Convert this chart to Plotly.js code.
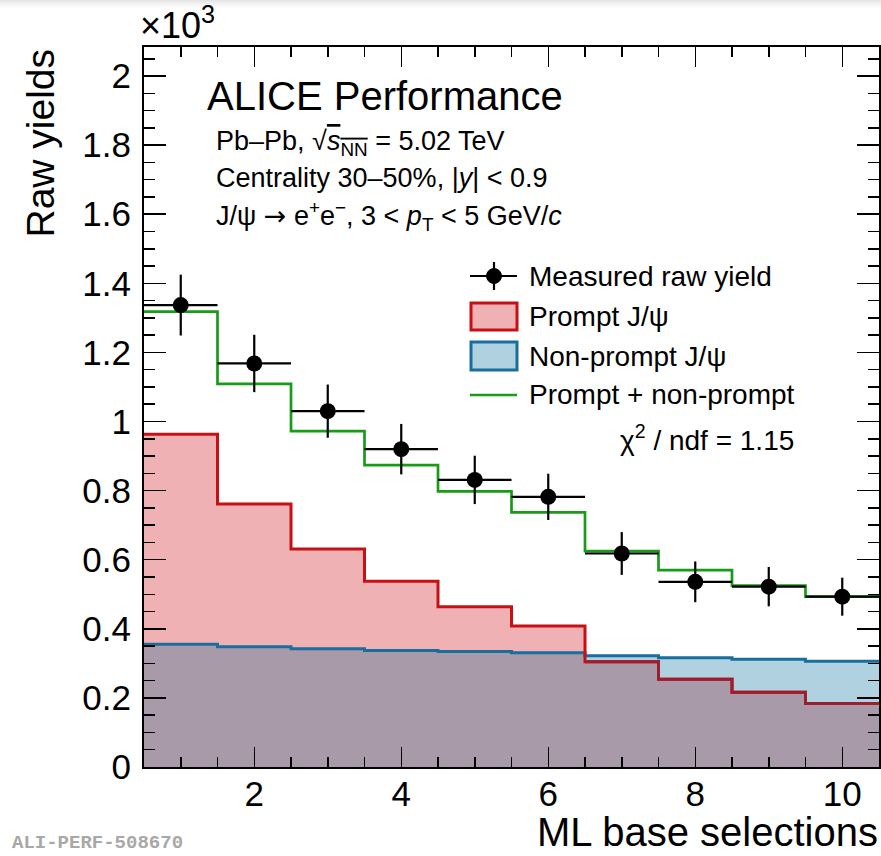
<!DOCTYPE html>
<html>
<head>
<meta charset="utf-8">
<script src="https://cdn.plot.ly/plotly-3.0.1.min.js"></script>
<style>
html,body{margin:0;padding:0;}
body{width:881px;height:856px;background:linear-gradient(#e4e4e4 0px,#f6f6f6 5px,#ffffff 9px);}
#chart{width:881px;height:856px;}
</style>
</head>
<body>
<div id="chart"></div>
<script>
// ---- data (values in units of 10^3) ----
const selections   = [1, 2, 3, 4, 5, 6, 7, 8, 9, 10];
const measured     = [1.337, 1.168, 1.030, 0.920, 0.831, 0.782, 0.618, 0.536, 0.522, 0.493];
const measuredErr  = [0.088, 0.083, 0.077, 0.073, 0.070, 0.067, 0.062, 0.059, 0.057, 0.055];
const prompt       = [0.963, 0.761, 0.631, 0.538, 0.464, 0.408, 0.305, 0.254, 0.216, 0.184];
const nonPrompt    = [0.355, 0.348, 0.342, 0.337, 0.334, 0.331, 0.322, 0.316, 0.312, 0.306];
const total        = [1.318, 1.109, 0.972, 0.874, 0.798, 0.737, 0.625, 0.570, 0.525, 0.493];
const xTickVals    = [2, 4, 6, 8, 10];
const yTickVals    = [0, 0.2, 0.4, 0.6, 0.8, 1, 1.2, 1.4, 1.6, 1.8, 2];
const binWidth = 1;

// ---- helpers for histogram steps ----
function stepX(centers){
  const xs = centers.map(c => c - binWidth/2);
  xs.push(centers[centers.length-1] + binWidth/2);
  return xs;
}
function stepY(vals){ return vals.concat([vals[vals.length-1]]); }
const overlap = prompt.map((p,i) => Math.min(p, nonPrompt[i]));

// dark red segments where prompt lies inside the non-prompt area
const darkX = [], darkY = [];
for (let i = 0; i < selections.length; i++) {
  const inside = prompt[i] < nonPrompt[i];
  if (inside) {
    darkX.push(selections[i] - binWidth/2); darkY.push(prompt[i]);
    const lastOfRun = (i === selections.length-1) || !(prompt[i+1] < nonPrompt[i+1]);
    if (lastOfRun) { darkX.push(selections[i] + binWidth/2); darkY.push(prompt[i]); darkX.push(null); darkY.push(null); }
  }
}

// ---- geometry (pixels -> paper) ----
const W = 881, H = 856, ML = 144, MR = 2, MT = 47, MB = 89;
const PW = W - ML - MR, PH = H - MT - MB;
const px = x => (x - ML) / PW;
const py = y => (H - MB - y) / PH;

const FONT = 'Liberation Sans, Arial, Helvetica, sans-serif';
const C_PINK = '#f0b1b5', C_RED = '#c80f14', C_DARKRED = '#9c1f30';
const C_LBLUE = '#afd1e0', C_BLUE = '#1a6e9e', C_OVER = '#a89aa9', C_GREEN = '#189c18';

const xs = stepX(selections);
const traces = [
  {x: xs, y: stepY(nonPrompt), mode: 'lines', line: {shape: 'hv', width: 0, color: C_LBLUE}, fill: 'tozeroy', fillcolor: C_LBLUE, hoverinfo: 'skip'},
  {x: xs, y: stepY(prompt), mode: 'lines', line: {shape: 'hv', width: 0, color: C_PINK}, fill: 'tozeroy', fillcolor: C_PINK, hoverinfo: 'skip'},
  {x: xs, y: stepY(overlap), mode: 'lines', line: {shape: 'hv', width: 0, color: C_OVER}, fill: 'tozeroy', fillcolor: C_OVER, hoverinfo: 'skip'},
  {x: xs, y: stepY(nonPrompt), mode: 'lines', line: {shape: 'hv', width: 3, color: C_BLUE}, hoverinfo: 'skip'},
  {x: xs, y: stepY(prompt), mode: 'lines', line: {shape: 'hv', width: 3, color: C_RED}, hoverinfo: 'skip'},
  {x: darkX, y: darkY, mode: 'lines', line: {shape: 'hv', width: 3, color: C_DARKRED}, connectgaps: false, hoverinfo: 'skip'},
  {x: xs, y: stepY(total), mode: 'lines', line: {shape: 'hv', width: 2.7, color: C_GREEN}, hoverinfo: 'skip'},
  {x: selections, y: measured, mode: 'markers', marker: {symbol: 'circle', size: 16, color: 'black'},
   error_y: {type: 'data', array: measuredErr, width: 0, thickness: 2.2, color: 'black'},
   error_x: {type: 'constant', value: binWidth/2, width: 0, thickness: 2.2, color: 'black'}}
];

const axisCommon = {
  showgrid: false, zeroline: false, showline: true, linecolor: 'black', linewidth: 2,
  mirror: 'allticks', ticks: 'inside', tickcolor: 'black', tickwidth: 1.5,
  tickfont: {family: FONT, size: 35, color: 'black'}
};

const layout = {
  width: W, height: H,
  margin: {l: ML, r: MR, t: MT, b: MB, pad: 0},
  paper_bgcolor: 'rgba(0,0,0,0)', plot_bgcolor: 'white',
  showlegend: false,
  xaxis: Object.assign({}, axisCommon, {
    range: [0.5, 10.5], tickmode: 'array', tickvals: xTickVals, ticklen: 20, ticklabelstandoff: -5,
    minor: {dtick: 0.5, tick0: 0, ticklen: 10, tickwidth: 1.5, tickcolor: 'black', ticks: 'inside'}
  }),
  yaxis: Object.assign({}, axisCommon, {
    range: [0, 2.084], tickmode: 'array', tickvals: yTickVals, ticklen: 22, ticklabelstandoff: 4,
    minor: {dtick: 0.05, tick0: 0, ticklen: 11, tickwidth: 1.5, tickcolor: 'black', ticks: 'inside'}
  }),
  shapes: [
    // legend: measured
    {type: 'line', xref: 'paper', yref: 'paper', x0: px(470), x1: px(517), y0: py(276), y1: py(276), line: {color: 'black', width: 2.2}},
    {type: 'line', xref: 'paper', yref: 'paper', x0: px(494), x1: px(494), y0: py(262), y1: py(290), line: {color: 'black', width: 2.2}},
    {type: 'circle', xref: 'paper', yref: 'paper', x0: px(486.5), x1: px(501.5), y0: py(268.5), y1: py(283.5), fillcolor: 'black', line: {color: 'black', width: 1}},
    // legend: prompt
    {type: 'rect', xref: 'paper', yref: 'paper', x0: px(471), x1: px(517), y0: py(303), y1: py(330), fillcolor: C_PINK, line: {color: C_RED, width: 3}},
    // legend: non-prompt
    {type: 'rect', xref: 'paper', yref: 'paper', x0: px(471), x1: px(517), y0: py(342), y1: py(370), fillcolor: C_LBLUE, line: {color: C_BLUE, width: 3}},
    // legend: total
    {type: 'line', xref: 'paper', yref: 'paper', x0: px(470), x1: px(517), y0: py(395), y1: py(395), line: {color: C_GREEN, width: 2.5}}
  ],
  annotations: [
    {text: 'Raw yields', textangle: -90, xref: 'paper', yref: 'paper', x: px(40), y: py(46), xanchor: 'center', yanchor: 'top', showarrow: false, font: {family: FONT, size: 39, color: 'black'}},
    {text: 'ML base selections', xref: 'paper', yref: 'paper', x: px(880), y: py(832), xanchor: 'right', yanchor: 'middle', showarrow: false, font: {family: FONT, size: 40, color: 'black'}},
    {text: '×10<sup>3</sup>', xref: 'paper', yref: 'paper', x: px(138), y: py(23), xanchor: 'left', yanchor: 'middle', showarrow: false, font: {family: FONT, size: 36, color: 'black'}},
    {text: 'ALICE Performance', xref: 'paper', yref: 'paper', x: px(205), y: py(96), xanchor: 'left', yanchor: 'middle', showarrow: false, font: {family: FONT, size: 40, color: 'black'}},
    {text: 'Pb–Pb, √<span style="text-decoration:overline"><i>s</i><sub>NN</sub></span> = 5.02 TeV', xref: 'paper', yref: 'paper', x: px(214), y: py(143), xanchor: 'left', yanchor: 'middle', showarrow: false, font: {family: FONT, size: 27, color: 'black'}},
    {text: 'Centrality 30–50%, |<i>y</i>| &lt; 0.9', xref: 'paper', yref: 'paper', x: px(214), y: py(178), xanchor: 'left', yanchor: 'middle', showarrow: false, font: {family: FONT, size: 27, color: 'black'}},
    {text: 'J/ψ <span style="font-family:DejaVu Sans">→</span> e<sup>+</sup>e<sup>−</sup>, 3 &lt; <i>p</i><sub>T</sub> &lt; 5 GeV/<i>c</i>', xref: 'paper', yref: 'paper', x: px(214), y: py(216), xanchor: 'left', yanchor: 'middle', showarrow: false, font: {family: FONT, size: 27, color: 'black'}},
    {text: 'Measured raw yield', xref: 'paper', yref: 'paper', x: px(527), y: py(276), xanchor: 'left', yanchor: 'middle', showarrow: false, font: {family: FONT, size: 28, color: 'black'}},
    {text: 'Prompt J/ψ', xref: 'paper', yref: 'paper', x: px(527), y: py(316), xanchor: 'left', yanchor: 'middle', showarrow: false, font: {family: FONT, size: 28, color: 'black'}},
    {text: 'Non-prompt J/ψ', xref: 'paper', yref: 'paper', x: px(527), y: py(356), xanchor: 'left', yanchor: 'middle', showarrow: false, font: {family: FONT, size: 28, color: 'black'}},
    {text: 'Prompt + non-prompt', xref: 'paper', yref: 'paper', x: px(527), y: py(395), xanchor: 'left', yanchor: 'middle', showarrow: false, font: {family: FONT, size: 28, color: 'black'}},
    {text: 'χ<sup>2</sup> / ndf = 1.15', xref: 'paper', yref: 'paper', x: px(796), y: py(438), xanchor: 'right', yanchor: 'middle', showarrow: false, font: {family: FONT, size: 28, color: 'black'}},
    {text: '<b>ALI-PERF-508670</b>', xref: 'paper', yref: 'paper', x: px(10), y: py(843), xanchor: 'left', yanchor: 'middle', showarrow: false, font: {family: 'Liberation Mono, Courier New, monospace', size: 19, color: '#a8a8a8'}}
  ]
};

Plotly.newPlot('chart', traces, layout, {displayModeBar: false, staticPlot: true});
</script>
</body>
</html>
